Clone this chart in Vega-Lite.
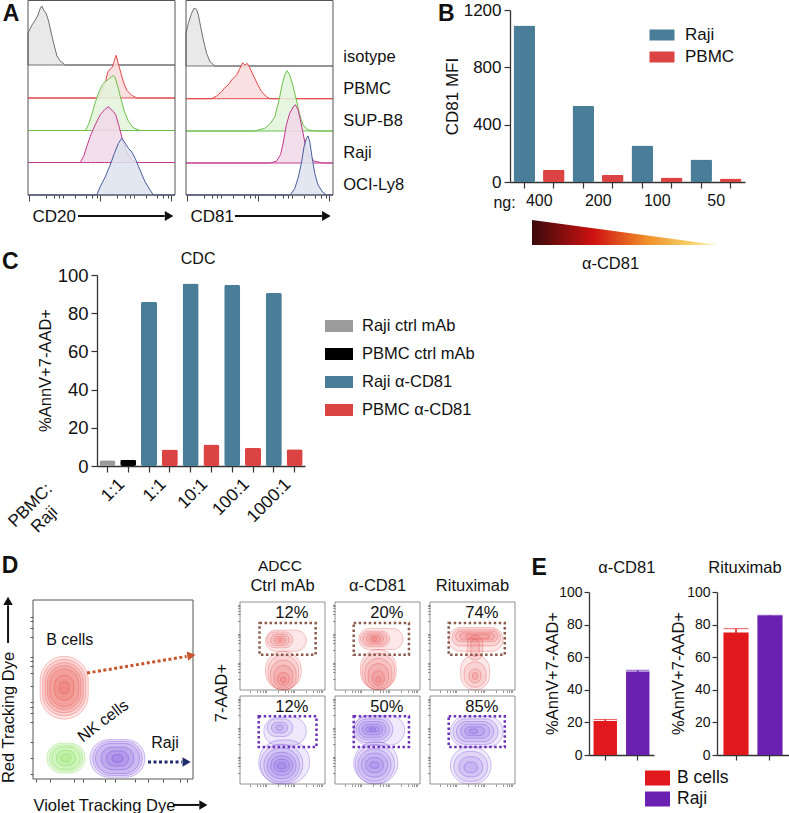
{
"$schema":"https://vega.github.io/schema/vega-lite/v6.json",
"width":789,"height":813,"autosize":"none","padding":0,"background":"white",
"config":{"font":"Liberation Sans","view":{"stroke":null},
 "axis":{"grid":false,"labelColor":"#111","titleColor":"#111","domainColor":"#333","tickColor":"#333","titleFontWeight":"normal","labelFont":"Liberation Sans","titleFont":"Liberation Sans","domainWidth":1.3,"tickWidth":1.2},
 "legend":{"labelFont":"Liberation Sans","labelColor":"#111","padding":0,"offset":0,"symbolStrokeWidth":0},
 "text":{"font":"Liberation Sans","color":"#111"}},
"datasets":{
"hist":[
{"ab":"CD20","pop":"isotype","fl":0,"cnt":32},{"ab":"CD20","pop":"isotype","fl":2.7,"cnt":40},{"ab":"CD20","pop":"isotype","fl":5,"cnt":45},{"ab":"CD20","pop":"isotype","fl":6.8,"cnt":50},{"ab":"CD20","pop":"isotype","fl":8.4,"cnt":57},{"ab":"CD20","pop":"isotype","fl":9.5,"cnt":59},{"ab":"CD20","pop":"isotype","fl":10.6,"cnt":55},{"ab":"CD20","pop":"isotype","fl":12.2,"cnt":52},{"ab":"CD20","pop":"isotype","fl":14,"cnt":44},{"ab":"CD20","pop":"isotype","fl":15.8,"cnt":32},{"ab":"CD20","pop":"isotype","fl":17.4,"cnt":22},{"ab":"CD20","pop":"isotype","fl":19.7,"cnt":9},{"ab":"CD20","pop":"isotype","fl":21.9,"cnt":4},{"ab":"CD20","pop":"isotype","fl":25.3,"cnt":0},{"ab":"CD20","pop":"isotype","fl":100,"cnt":0},
{"ab":"CD20","pop":"PBMC","fl":0,"cnt":0},{"ab":"CD20","pop":"PBMC","fl":46.8,"cnt":0},{"ab":"CD20","pop":"PBMC","fl":49.1,"cnt":2.7},{"ab":"CD20","pop":"PBMC","fl":51.4,"cnt":11},{"ab":"CD20","pop":"PBMC","fl":52.9,"cnt":17.7},{"ab":"CD20","pop":"PBMC","fl":54.3,"cnt":26},{"ab":"CD20","pop":"PBMC","fl":55.9,"cnt":29},{"ab":"CD20","pop":"PBMC","fl":57.5,"cnt":31},{"ab":"CD20","pop":"PBMC","fl":58.8,"cnt":37.7},{"ab":"CD20","pop":"PBMC","fl":60,"cnt":42.7},{"ab":"CD20","pop":"PBMC","fl":61.1,"cnt":36},{"ab":"CD20","pop":"PBMC","fl":62.7,"cnt":27.7},{"ab":"CD20","pop":"PBMC","fl":64.9,"cnt":16},{"ab":"CD20","pop":"PBMC","fl":67.2,"cnt":7.7},{"ab":"CD20","pop":"PBMC","fl":70.6,"cnt":2.7},{"ab":"CD20","pop":"PBMC","fl":74,"cnt":0},{"ab":"CD20","pop":"PBMC","fl":100,"cnt":0},
{"ab":"CD20","pop":"SUP-B8","fl":0,"cnt":0},{"ab":"CD20","pop":"SUP-B8","fl":38.9,"cnt":0},{"ab":"CD20","pop":"SUP-B8","fl":41.2,"cnt":6},{"ab":"CD20","pop":"SUP-B8","fl":43.4,"cnt":16},{"ab":"CD20","pop":"SUP-B8","fl":45.7,"cnt":27.7},{"ab":"CD20","pop":"SUP-B8","fl":48,"cnt":37.7},{"ab":"CD20","pop":"SUP-B8","fl":50.7,"cnt":46},{"ab":"CD20","pop":"SUP-B8","fl":52.5,"cnt":49},{"ab":"CD20","pop":"SUP-B8","fl":54.8,"cnt":51},{"ab":"CD20","pop":"SUP-B8","fl":56.6,"cnt":53.7},{"ab":"CD20","pop":"SUP-B8","fl":58.1,"cnt":55},{"ab":"CD20","pop":"SUP-B8","fl":59.3,"cnt":52.7},{"ab":"CD20","pop":"SUP-B8","fl":61.1,"cnt":44},{"ab":"CD20","pop":"SUP-B8","fl":63.3,"cnt":31},{"ab":"CD20","pop":"SUP-B8","fl":65.6,"cnt":19},{"ab":"CD20","pop":"SUP-B8","fl":68.3,"cnt":9.3},{"ab":"CD20","pop":"SUP-B8","fl":71.7,"cnt":2.7},{"ab":"CD20","pop":"SUP-B8","fl":76.2,"cnt":0},{"ab":"CD20","pop":"SUP-B8","fl":100,"cnt":0},
{"ab":"CD20","pop":"Raji","fl":0,"cnt":0},{"ab":"CD20","pop":"Raji","fl":35.5,"cnt":0},{"ab":"CD20","pop":"Raji","fl":37.8,"cnt":6},{"ab":"CD20","pop":"Raji","fl":40,"cnt":16},{"ab":"CD20","pop":"Raji","fl":42.3,"cnt":26},{"ab":"CD20","pop":"Raji","fl":45.7,"cnt":37.7},{"ab":"CD20","pop":"Raji","fl":49.1,"cnt":47.7},{"ab":"CD20","pop":"Raji","fl":52,"cnt":52.7},{"ab":"CD20","pop":"Raji","fl":54.8,"cnt":56},{"ab":"CD20","pop":"Raji","fl":56.6,"cnt":52.7},{"ab":"CD20","pop":"Raji","fl":58.1,"cnt":51},{"ab":"CD20","pop":"Raji","fl":59.7,"cnt":47.7},{"ab":"CD20","pop":"Raji","fl":62,"cnt":36},{"ab":"CD20","pop":"Raji","fl":64.3,"cnt":22.7},{"ab":"CD20","pop":"Raji","fl":66.5,"cnt":12.7},{"ab":"CD20","pop":"Raji","fl":69.5,"cnt":4.3},{"ab":"CD20","pop":"Raji","fl":72.9,"cnt":0},{"ab":"CD20","pop":"Raji","fl":100,"cnt":0},
{"ab":"CD20","pop":"OCI-Ly8","fl":0,"cnt":0},{"ab":"CD20","pop":"OCI-Ly8","fl":46.8,"cnt":0},{"ab":"CD20","pop":"OCI-Ly8","fl":49.1,"cnt":8.3},{"ab":"CD20","pop":"OCI-Ly8","fl":52.5,"cnt":18},{"ab":"CD20","pop":"OCI-Ly8","fl":55.9,"cnt":30},{"ab":"CD20","pop":"OCI-Ly8","fl":58.8,"cnt":41.7},{"ab":"CD20","pop":"OCI-Ly8","fl":61.5,"cnt":51.7},{"ab":"CD20","pop":"OCI-Ly8","fl":63.8,"cnt":56.7},{"ab":"CD20","pop":"OCI-Ly8","fl":65.6,"cnt":53},{"ab":"CD20","pop":"OCI-Ly8","fl":68.3,"cnt":46.7},{"ab":"CD20","pop":"OCI-Ly8","fl":70.6,"cnt":43},{"ab":"CD20","pop":"OCI-Ly8","fl":72.9,"cnt":36.7},{"ab":"CD20","pop":"OCI-Ly8","fl":76.2,"cnt":25},{"ab":"CD20","pop":"OCI-Ly8","fl":79.6,"cnt":13.3},{"ab":"CD20","pop":"OCI-Ly8","fl":83,"cnt":5},{"ab":"CD20","pop":"OCI-Ly8","fl":85.3,"cnt":0},{"ab":"CD20","pop":"OCI-Ly8","fl":100,"cnt":0},
{"ab":"CD81","pop":"isotype","fl":0,"cnt":32.7},{"ab":"CD81","pop":"isotype","fl":1.6,"cnt":42.7},{"ab":"CD81","pop":"isotype","fl":3.8,"cnt":52.7},{"ab":"CD81","pop":"isotype","fl":5.4,"cnt":57.7},{"ab":"CD81","pop":"isotype","fl":7.2,"cnt":56.7},{"ab":"CD81","pop":"isotype","fl":8.4,"cnt":51},{"ab":"CD81","pop":"isotype","fl":10,"cnt":39},{"ab":"CD81","pop":"isotype","fl":11.8,"cnt":26},{"ab":"CD81","pop":"isotype","fl":14,"cnt":12.7},{"ab":"CD81","pop":"isotype","fl":16.3,"cnt":4.3},{"ab":"CD81","pop":"isotype","fl":19.7,"cnt":0},{"ab":"CD81","pop":"isotype","fl":100,"cnt":0},
{"ab":"CD81","pop":"PBMC","fl":0,"cnt":0},{"ab":"CD81","pop":"PBMC","fl":17.4,"cnt":0},{"ab":"CD81","pop":"PBMC","fl":20.8,"cnt":2.7},{"ab":"CD81","pop":"PBMC","fl":24.2,"cnt":7},{"ab":"CD81","pop":"PBMC","fl":26.5,"cnt":11.3},{"ab":"CD81","pop":"PBMC","fl":28.7,"cnt":13.7},{"ab":"CD81","pop":"PBMC","fl":31,"cnt":18.7},{"ab":"CD81","pop":"PBMC","fl":34.4,"cnt":23.7},{"ab":"CD81","pop":"PBMC","fl":36.7,"cnt":30.3},{"ab":"CD81","pop":"PBMC","fl":38.5,"cnt":36},{"ab":"CD81","pop":"PBMC","fl":40,"cnt":33.7},{"ab":"CD81","pop":"PBMC","fl":41.6,"cnt":35.3},{"ab":"CD81","pop":"PBMC","fl":43,"cnt":32},{"ab":"CD81","pop":"PBMC","fl":45.7,"cnt":23.7},{"ab":"CD81","pop":"PBMC","fl":48.4,"cnt":15.3},{"ab":"CD81","pop":"PBMC","fl":51.4,"cnt":7},{"ab":"CD81","pop":"PBMC","fl":54.8,"cnt":2},{"ab":"CD81","pop":"PBMC","fl":57,"cnt":0},{"ab":"CD81","pop":"PBMC","fl":100,"cnt":0},
{"ab":"CD81","pop":"SUP-B8","fl":0,"cnt":0},{"ab":"CD81","pop":"SUP-B8","fl":46.8,"cnt":0},{"ab":"CD81","pop":"SUP-B8","fl":53.6,"cnt":2.7},{"ab":"CD81","pop":"SUP-B8","fl":57.5,"cnt":7.7},{"ab":"CD81","pop":"SUP-B8","fl":60.4,"cnt":14.3},{"ab":"CD81","pop":"SUP-B8","fl":63.3,"cnt":31},{"ab":"CD81","pop":"SUP-B8","fl":65.6,"cnt":47.7},{"ab":"CD81","pop":"SUP-B8","fl":67.2,"cnt":56},{"ab":"CD81","pop":"SUP-B8","fl":68.8,"cnt":60.3},{"ab":"CD81","pop":"SUP-B8","fl":70.6,"cnt":56},{"ab":"CD81","pop":"SUP-B8","fl":72.9,"cnt":44.3},{"ab":"CD81","pop":"SUP-B8","fl":75.1,"cnt":31},{"ab":"CD81","pop":"SUP-B8","fl":77.4,"cnt":16},{"ab":"CD81","pop":"SUP-B8","fl":79.6,"cnt":6},{"ab":"CD81","pop":"SUP-B8","fl":83,"cnt":1},{"ab":"CD81","pop":"SUP-B8","fl":88.7,"cnt":0},{"ab":"CD81","pop":"SUP-B8","fl":100,"cnt":0},
{"ab":"CD81","pop":"Raji","fl":0,"cnt":0},{"ab":"CD81","pop":"Raji","fl":57,"cnt":0},{"ab":"CD81","pop":"Raji","fl":61.5,"cnt":1.7},{"ab":"CD81","pop":"Raji","fl":64.3,"cnt":8.3},{"ab":"CD81","pop":"Raji","fl":66.1,"cnt":20},{"ab":"CD81","pop":"Raji","fl":68.3,"cnt":38.3},{"ab":"CD81","pop":"Raji","fl":70.6,"cnt":50},{"ab":"CD81","pop":"Raji","fl":72.9,"cnt":56},{"ab":"CD81","pop":"Raji","fl":74.4,"cnt":58.3},{"ab":"CD81","pop":"Raji","fl":76.2,"cnt":53.3},{"ab":"CD81","pop":"Raji","fl":77.8,"cnt":43.3},{"ab":"CD81","pop":"Raji","fl":79.6,"cnt":30},{"ab":"CD81","pop":"Raji","fl":81.4,"cnt":16.7},{"ab":"CD81","pop":"Raji","fl":83.7,"cnt":6.7},{"ab":"CD81","pop":"Raji","fl":87.6,"cnt":1.7},{"ab":"CD81","pop":"Raji","fl":93.2,"cnt":0},{"ab":"CD81","pop":"Raji","fl":100,"cnt":0},
{"ab":"CD81","pop":"OCI-Ly8","fl":0,"cnt":0},{"ab":"CD81","pop":"OCI-Ly8","fl":71,"cnt":0},{"ab":"CD81","pop":"OCI-Ly8","fl":74,"cnt":6.7},{"ab":"CD81","pop":"OCI-Ly8","fl":76.2,"cnt":16.7},{"ab":"CD81","pop":"OCI-Ly8","fl":78.5,"cnt":31.7},{"ab":"CD81","pop":"OCI-Ly8","fl":80.3,"cnt":48.3},{"ab":"CD81","pop":"OCI-Ly8","fl":81.9,"cnt":56.7},{"ab":"CD81","pop":"OCI-Ly8","fl":83,"cnt":59},{"ab":"CD81","pop":"OCI-Ly8","fl":84.2,"cnt":53.3},{"ab":"CD81","pop":"OCI-Ly8","fl":85.7,"cnt":38.3},{"ab":"CD81","pop":"OCI-Ly8","fl":87.6,"cnt":21.7},{"ab":"CD81","pop":"OCI-Ly8","fl":89.8,"cnt":10},{"ab":"CD81","pop":"OCI-Ly8","fl":92.8,"cnt":3.3},{"ab":"CD81","pop":"OCI-Ly8","fl":95.5,"cnt":0},{"ab":"CD81","pop":"OCI-Ly8","fl":100,"cnt":0}
],
"lanes":[{"pop":"isotype"},{"pop":"PBMC"},{"pop":"SUP-B8"},{"pop":"Raji"},{"pop":"OCI-Ly8"}],
"mfi":[
{"bar":"400 Raji","ng":"400","cell":"Raji","mfi":1092},{"bar":"400 PBMC","ng":"400","cell":"PBMC","mfi":85},
{"bar":"200 Raji","ng":"200","cell":"Raji","mfi":531},{"bar":"200 PBMC","ng":"200","cell":"PBMC","mfi":50},
{"bar":"100 Raji","ng":"100","cell":"Raji","mfi":255},{"bar":"100 PBMC","ng":"100","cell":"PBMC","mfi":32},
{"bar":"50 Raji","ng":"50","cell":"Raji","mfi":157},{"bar":"50 PBMC","ng":"50","cell":"PBMC","mfi":25}],
"dose":[{"frac":0,"amount":1},{"frac":1,"amount":0}],
"cdc":[
{"bar":"1:1|ctrl|Raji","ratio":"1:1","group":"Raji ctrl mAb","pct":3.0},
{"bar":"1:1|ctrl|PBMC","ratio":"1:1","group":"PBMC ctrl mAb","pct":3.3},
{"bar":"1:1|α|Raji","ratio":"1:1","group":"Raji α-CD81","pct":86.0},
{"bar":"1:1|α|PBMC","ratio":"1:1","group":"PBMC α-CD81","pct":8.6},
{"bar":"10:1|α|Raji","ratio":"10:1","group":"Raji α-CD81","pct":95.6},
{"bar":"10:1|α|PBMC","ratio":"10:1","group":"PBMC α-CD81","pct":11.2},
{"bar":"100:1|α|Raji","ratio":"100:1","group":"Raji α-CD81","pct":94.8},
{"bar":"100:1|α|PBMC","ratio":"100:1","group":"PBMC α-CD81","pct":9.5},
{"bar":"1000:1|α|Raji","ratio":"1000:1","group":"Raji α-CD81","pct":90.6},
{"bar":"1000:1|α|PBMC","ratio":"1000:1","group":"PBMC α-CD81","pct":8.8}],
"rings":[
{"panel":"D0","cell":"B cells","x1":4.5,"x2":34.5,"y1":33.5,"y2":68.5},{"panel":"D0","cell":"B cells","x1":6,"x2":33,"y1":35.3,"y2":66.8},{"panel":"D0","cell":"B cells","x1":7.5,"x2":31.5,"y1":37,"y2":65},{"panel":"D0","cell":"B cells","x1":9,"x2":30,"y1":38.8,"y2":63.3},{"panel":"D0","cell":"B cells","x1":10.5,"x2":28.5,"y1":40.5,"y2":61.5},{"panel":"D0","cell":"B cells","x1":13.5,"x2":25.5,"y1":44,"y2":58},{"panel":"D0","cell":"B cells","x1":16.5,"x2":22.5,"y1":47.5,"y2":54.5},
{"panel":"D0","cell":"NK cells","x1":8.7,"x2":32.5,"y1":3.4,"y2":20},{"panel":"D0","cell":"NK cells","x1":10.2,"x2":31,"y1":4.5,"y2":19},{"panel":"D0","cell":"NK cells","x1":11.7,"x2":29.5,"y1":5.5,"y2":17.9},{"panel":"D0","cell":"NK cells","x1":14.6,"x2":26.6,"y1":7.5,"y2":15.9},{"panel":"D0","cell":"NK cells","x1":17.6,"x2":23.6,"y1":9.6,"y2":13.8},
{"panel":"D0","cell":"Raji","x1":35.6,"x2":70,"y1":1,"y2":22},{"panel":"D0","cell":"Raji","x1":37.3,"x2":68.3,"y1":2,"y2":21},{"panel":"D0","cell":"Raji","x1":39,"x2":66.6,"y1":3.1,"y2":19.9},{"panel":"D0","cell":"Raji","x1":42.5,"x2":63.1,"y1":5.2,"y2":17.8},{"panel":"D0","cell":"Raji","x1":45.9,"x2":59.7,"y1":7.3,"y2":15.7},{"panel":"D0","cell":"Raji","x1":49.4,"x2":56.2,"y1":9.4,"y2":13.6},
{"panel":"P1","cell":"B cells","x1":30,"x2":78,"y1":44,"y2":68},{"panel":"P1","cell":"B cells","x1":32,"x2":62,"y1":48,"y2":66},{"panel":"P1","cell":"B cells","x1":36,"x2":58,"y1":50.5,"y2":63.5},{"panel":"P1","cell":"B cells","x1":40,"x2":54,"y1":53,"y2":61},{"panel":"P1","cell":"B cells","x1":44,"x2":50,"y1":55.5,"y2":58.5},
{"panel":"P1","cell":"B cells","x1":30,"x2":72,"y1":0,"y2":44},{"panel":"P1","cell":"B cells","x1":33,"x2":69,"y1":0,"y2":40},{"panel":"P1","cell":"B cells","x1":36,"x2":66,"y1":0,"y2":34},{"panel":"P1","cell":"B cells","x1":40,"x2":62,"y1":2,"y2":28},{"panel":"P1","cell":"B cells","x1":44,"x2":58,"y1":5,"y2":20},{"panel":"P1","cell":"B cells","x1":48,"x2":54,"y1":8,"y2":15},
{"panel":"P2","cell":"B cells","x1":28,"x2":80,"y1":46,"y2":70},{"panel":"P2","cell":"B cells","x1":30,"x2":64,"y1":49,"y2":67},{"panel":"P2","cell":"B cells","x1":33,"x2":61,"y1":51,"y2":65},{"panel":"P2","cell":"B cells","x1":37,"x2":57,"y1":53,"y2":63},{"panel":"P2","cell":"B cells","x1":41,"x2":53,"y1":55,"y2":61},{"panel":"P2","cell":"B cells","x1":44,"x2":49,"y1":56.5,"y2":59.5},
{"panel":"P2","cell":"B cells","x1":30,"x2":72,"y1":0,"y2":46},{"panel":"P2","cell":"B cells","x1":32,"x2":70,"y1":0,"y2":42},{"panel":"P2","cell":"B cells","x1":35,"x2":67,"y1":0,"y2":36},{"panel":"P2","cell":"B cells","x1":39,"x2":63,"y1":2,"y2":30},{"panel":"P2","cell":"B cells","x1":44,"x2":58,"y1":5,"y2":22},{"panel":"P2","cell":"B cells","x1":48,"x2":54,"y1":8,"y2":15},
{"panel":"P3","cell":"B cells","x1":22,"x2":86,"y1":44,"y2":71},{"panel":"P3","cell":"B cells","x1":26,"x2":83,"y1":50,"y2":69},{"panel":"P3","cell":"B cells","x1":30,"x2":80,"y1":55,"y2":67},{"panel":"P3","cell":"B cells","x1":35,"x2":76,"y1":57,"y2":65},{"panel":"P3","cell":"B cells","x1":42,"x2":70,"y1":58.5,"y2":63.5},{"panel":"P3","cell":"B cells","x1":44,"x2":62,"y1":34,"y2":62},{"panel":"P3","cell":"B cells","x1":48,"x2":58,"y1":38,"y2":58},
{"panel":"P3","cell":"B cells","x1":36,"x2":70,"y1":0,"y2":40},{"panel":"P3","cell":"B cells","x1":40,"x2":66,"y1":3,"y2":32},{"panel":"P3","cell":"B cells","x1":46,"x2":60,"y1":8,"y2":24},{"panel":"P3","cell":"B cells","x1":50,"x2":56,"y1":12,"y2":20},
{"panel":"P4","cell":"Raji","x1":28,"x2":78,"y1":44,"y2":76},{"panel":"P4","cell":"Raji","x1":32,"x2":62,"y1":54,"y2":74},{"panel":"P4","cell":"Raji","x1":37,"x2":56,"y1":58,"y2":70},{"panel":"P4","cell":"Raji","x1":42,"x2":51,"y1":61,"y2":67},
{"panel":"P4","cell":"Raji","x1":22,"x2":82,"y1":0,"y2":50},{"panel":"P4","cell":"Raji","x1":24,"x2":74,"y1":0,"y2":45},{"panel":"P4","cell":"Raji","x1":28,"x2":70,"y1":2,"y2":41},{"panel":"P4","cell":"Raji","x1":32,"x2":66,"y1":6,"y2":36},{"panel":"P4","cell":"Raji","x1":36,"x2":62,"y1":10,"y2":32},{"panel":"P4","cell":"Raji","x1":40,"x2":58,"y1":14,"y2":28},{"panel":"P4","cell":"Raji","x1":44,"x2":54,"y1":17,"y2":24},
{"panel":"P5","cell":"Raji","x1":22,"x2":82,"y1":44,"y2":78},{"panel":"P5","cell":"Raji","x1":22,"x2":68,"y1":47,"y2":77},{"panel":"P5","cell":"Raji","x1":25,"x2":64,"y1":50,"y2":74},{"panel":"P5","cell":"Raji","x1":28,"x2":60,"y1":53,"y2":71},{"panel":"P5","cell":"Raji","x1":32,"x2":56,"y1":56,"y2":68},{"panel":"P5","cell":"Raji","x1":36,"x2":52,"y1":59,"y2":65},{"panel":"P5","cell":"Raji","x1":40,"x2":48,"y1":60.5,"y2":63.5},
{"panel":"P5","cell":"Raji","x1":22,"x2":74,"y1":0,"y2":48},{"panel":"P5","cell":"Raji","x1":24,"x2":70,"y1":0,"y2":45},{"panel":"P5","cell":"Raji","x1":27,"x2":66,"y1":3,"y2":40},{"panel":"P5","cell":"Raji","x1":31,"x2":62,"y1":8,"y2":35},{"panel":"P5","cell":"Raji","x1":36,"x2":57,"y1":13,"y2":30},{"panel":"P5","cell":"Raji","x1":41,"x2":52,"y1":18,"y2":25},
{"panel":"P6","cell":"Raji","x1":24,"x2":86,"y1":42,"y2":77},{"panel":"P6","cell":"Raji","x1":27,"x2":80,"y1":45,"y2":74},{"panel":"P6","cell":"Raji","x1":31,"x2":75,"y1":48,"y2":71},{"panel":"P6","cell":"Raji","x1":36,"x2":70,"y1":52,"y2":68},{"panel":"P6","cell":"Raji","x1":41,"x2":64,"y1":55,"y2":65},{"panel":"P6","cell":"Raji","x1":46,"x2":56,"y1":57.5,"y2":62.5},
{"panel":"P6","cell":"Raji","x1":24,"x2":72,"y1":0,"y2":42},{"panel":"P6","cell":"Raji","x1":28,"x2":68,"y1":3,"y2":37},{"panel":"P6","cell":"Raji","x1":34,"x2":62,"y1":8,"y2":31},{"panel":"P6","cell":"Raji","x1":40,"x2":56,"y1":13,"y2":25}],
"gates":[
{"panel":"P1","x1":23,"x2":89,"y1":40,"y2":76,"pct":"12%"},{"panel":"P2","x1":22,"x2":87,"y1":40,"y2":76,"pct":"20%"},{"panel":"P3","x1":22,"x2":88,"y1":40,"y2":76,"pct":"74%"},
{"panel":"P4","x1":22,"x2":90,"y1":42,"y2":77,"pct":"12%"},{"panel":"P5","x1":22,"x2":87,"y1":42,"y2":77,"pct":"50%"},{"panel":"P6","x1":22,"x2":88,"y1":42,"y2":77,"pct":"85%"}],
"adcc":[
{"treat":"α-CD81","cell":"B cells","pct":20.9,"sd":0.9},{"treat":"α-CD81","cell":"Raji","pct":51.2,"sd":0.8},
{"treat":"Rituximab","cell":"B cells","pct":75.2,"sd":2.3},{"treat":"Rituximab","cell":"Raji","pct":85.4,"sd":0.3}]
},
"layer":[
{"data":{"name":"hist"},"resolve":{"scale":{"y":"independent"}},"layer":[
 {"transform":[{"filter":"datum.ab=='CD20'&&datum.pop=='isotype'"}],"mark":{"type":"area","fill":"#e9e9e9","stroke":"#707070","strokeWidth":1},"encoding":{"x":{"field":"fl","type":"quantitative"},"y":{"field":"cnt","type":"quantitative","scale":{"domain":[0,60],"range":[65,5],"nice":false,"zero":false},"axis":null}}},
 {"transform":[{"filter":"datum.ab=='CD20'&&datum.pop=='PBMC'"}],"mark":{"type":"area","fill":"#f9dada","stroke":"#e2474b","strokeWidth":1,"fillOpacity":0.85},"encoding":{"x":{"field":"fl","type":"quantitative"},"y":{"field":"cnt","type":"quantitative","scale":{"domain":[0,60],"range":[98,38],"nice":false,"zero":false},"axis":null}}},
 {"transform":[{"filter":"datum.ab=='CD20'&&datum.pop=='SUP-B8'"}],"mark":{"type":"area","fill":"#e3f4da","stroke":"#6cc04a","strokeWidth":1,"fillOpacity":0.85},"encoding":{"x":{"field":"fl","type":"quantitative"},"y":{"field":"cnt","type":"quantitative","scale":{"domain":[0,60],"range":[130.5,70.5],"nice":false,"zero":false},"axis":null}}},
 {"transform":[{"filter":"datum.ab=='CD20'&&datum.pop=='Raji'"}],"mark":{"type":"area","fill":"#f1d8e8","stroke":"#c23a8e","strokeWidth":1,"fillOpacity":0.85},"encoding":{"x":{"field":"fl","type":"quantitative"},"y":{"field":"cnt","type":"quantitative","scale":{"domain":[0,60],"range":[162.5,102.5],"nice":false,"zero":false},"axis":null}}},
 {"transform":[{"filter":"datum.ab=='CD20'&&datum.pop=='OCI-Ly8'"}],"mark":{"type":"area","fill":"#dde3ef","stroke":"#4a5c9c","strokeWidth":1,"fillOpacity":0.85},"encoding":{"x":{"field":"fl","type":"quantitative"},"y":{"field":"cnt","type":"quantitative","scale":{"domain":[0,60],"range":[195,135],"nice":false,"zero":false},"axis":null}}},
 {"data":{"values":[{}]},"layer":[
  {"mark":{"type":"rect","fill":"transparent","stroke":"#555","strokeWidth":1},"encoding":{"x":{"datum":0,"type":"quantitative","scale":{"domain":[0,100],"range":[28,175],"nice":false,"zero":false},"axis":{"orient":"bottom","offset":-618,"values":[0.7,7.98,12.24,15.27,17.62,19.53,21.15,22.55,23.79,24.9,32.18,36.44,39.47,41.82,43.73,45.35,46.75,47.99,49.1,56.38,60.64,63.67,66.02,67.93,69.55,70.95,72.19,73.3,80.58,84.84,87.87,90.22,92.13,93.75,95.15,96.39,97.5],"labels":false,"domain":false,"tickColor":"#444","tickWidth":1,"tickSize":{"condition":{"test":"indexof([0.7,24.9,49.1,73.3,97.5],datum.value)>=0","value":6},"value":3},"title":"CD20","titleX":32,"titleY":21,"titleAlign":"left","titleBaseline":"middle","titleFontSize":17}},"x2":{"datum":100},"y":{"datum":0,"type":"quantitative","scale":{"domain":[0,1],"range":[195,0.5],"nice":false,"zero":false},"axis":null},"y2":{"datum":1}}},
  {"mark":{"type":"rule","color":"#111","strokeWidth":2},"encoding":{"x":{"datum":34},"x2":{"datum":93},"y":{"datum":-0.108,"axis":null}}},
  {"mark":{"type":"point","shape":"triangle-right","filled":true,"size":100,"color":"#111","opacity":1},"encoding":{"x":{"datum":96},"y":{"datum":-0.108,"axis":null}}},
  {"mark":{"type":"text","text":"A","fontSize":23,"fontWeight":"bold"},"encoding":{"x":{"datum":-11.5},"y":{"datum":0.93,"axis":null}}}
 ]}
]},
{"data":{"name":"hist"},"resolve":{"scale":{"y":"independent"}},"layer":[
 {"transform":[{"filter":"datum.ab=='CD81'&&datum.pop=='isotype'"}],"mark":{"type":"area","fill":"#e9e9e9","stroke":"#707070","strokeWidth":1},"encoding":{"x":{"field":"fl","type":"quantitative"},"y":{"field":"cnt","type":"quantitative","scale":{"domain":[0,60],"range":[66,6],"nice":false,"zero":false},"axis":null}}},
 {"transform":[{"filter":"datum.ab=='CD81'&&datum.pop=='PBMC'"}],"mark":{"type":"area","fill":"#f9dada","stroke":"#e2474b","strokeWidth":1,"fillOpacity":0.85},"encoding":{"x":{"field":"fl","type":"quantitative"},"y":{"field":"cnt","type":"quantitative","scale":{"domain":[0,60],"range":[98.7,38.7],"nice":false,"zero":false},"axis":null}}},
 {"transform":[{"filter":"datum.ab=='CD81'&&datum.pop=='SUP-B8'"}],"mark":{"type":"area","fill":"#e3f4da","stroke":"#6cc04a","strokeWidth":1,"fillOpacity":0.85},"encoding":{"x":{"field":"fl","type":"quantitative"},"y":{"field":"cnt","type":"quantitative","scale":{"domain":[0,60],"range":[131,71],"nice":false,"zero":false},"axis":null}}},
 {"transform":[{"filter":"datum.ab=='CD81'&&datum.pop=='Raji'"}],"mark":{"type":"area","fill":"#f1d8e8","stroke":"#c23a8e","strokeWidth":1,"fillOpacity":0.85},"encoding":{"x":{"field":"fl","type":"quantitative"},"y":{"field":"cnt","type":"quantitative","scale":{"domain":[0,60],"range":[163,103],"nice":false,"zero":false},"axis":null}}},
 {"transform":[{"filter":"datum.ab=='CD81'&&datum.pop=='OCI-Ly8'"}],"mark":{"type":"area","fill":"#dde3ef","stroke":"#4a5c9c","strokeWidth":1,"fillOpacity":0.85},"encoding":{"x":{"field":"fl","type":"quantitative"},"y":{"field":"cnt","type":"quantitative","scale":{"domain":[0,60],"range":[195,135],"nice":false,"zero":false},"axis":null}}},
 {"data":{"name":"lanes"},"mark":{"type":"text","align":"left","baseline":"middle","fontSize":16.5},"encoding":{"x":{"datum":107},"y":{"field":"pop","type":"nominal","sort":null,"scale":{"type":"point","domain":["isotype","PBMC","SUP-B8","Raji","OCI-Ly8"],"range":[57,185],"padding":0},"axis":null},"text":{"field":"pop"}}},
 {"data":{"values":[{}]},"layer":[
  {"mark":{"type":"rect","fill":"transparent","stroke":"#555","strokeWidth":1},"encoding":{"x":{"datum":0,"type":"quantitative","scale":{"domain":[0,100],"range":[186,333],"nice":false,"zero":false},"axis":{"orient":"bottom","offset":-618,"values":[0.7,7.98,12.24,15.27,17.62,19.53,21.15,22.55,23.79,24.9,32.18,36.44,39.47,41.82,43.73,45.35,46.75,47.99,49.1,56.38,60.64,63.67,66.02,67.93,69.55,70.95,72.19,73.3,80.58,84.84,87.87,90.22,92.13,93.75,95.15,96.39,97.5],"labels":false,"domain":false,"tickColor":"#444","tickWidth":1,"tickSize":{"condition":{"test":"indexof([0.7,24.9,49.1,73.3,97.5],datum.value)>=0","value":6},"value":3},"title":"CD81","titleX":190,"titleY":21,"titleAlign":"left","titleBaseline":"middle","titleFontSize":17}},"x2":{"datum":100},"y":{"datum":0,"type":"quantitative","scale":{"domain":[0,1],"range":[195,0.5],"nice":false,"zero":false},"axis":null},"y2":{"datum":1}}},
  {"mark":{"type":"rule","color":"#111","strokeWidth":2},"encoding":{"x":{"datum":33.3},"x2":{"datum":92.5},"y":{"datum":-0.108,"axis":null}}},
  {"mark":{"type":"point","shape":"triangle-right","filled":true,"size":100,"color":"#111","opacity":1},"encoding":{"x":{"datum":95.5},"y":{"datum":-0.108,"axis":null}}}
 ]}
]},
{"layer":[
 {"data":{"name":"mfi"},"mark":{"type":"bar","cornerRadius":1.5},"encoding":{
  "x":{"field":"bar","type":"nominal","sort":null,"scale":{"type":"band","domain":["400 Raji","400 PBMC","200 Raji","200 PBMC","100 Raji","100 PBMC","50 Raji","50 PBMC"],"range":[510,745],"paddingInner":0.27,"paddingOuter":0.12},"axis":{"orient":"bottom","offset":-631,"labelExpr":"indexof(datum.label,'Raji')>=0 ? split(datum.label,' ')[0] : ''","labelAngle":0,"labelOffset":15,"labelOverlap":false,"labelFontSize":16,"labelPadding":4,"tickSize":6,"title":"ng:","titleX":504,"titleY":20,"titleAlign":"center","titleBaseline":"middle","titleFontSize":16}},
  "y":{"field":"mfi","type":"quantitative","scale":{"domain":[0,1200],"range":[182,10],"nice":false,"zero":false},"axis":{"orient":"left","offset":-510,"values":[0,400,800,1200],"format":"d","labelFontSize":17,"tickSize":6,"labelPadding":3,"title":"CD81 MFI","titleFontSize":17,"titleX":-58,"titleY":96,"titleAngle":270,"titleAlign":"center","titleBaseline":"middle"}},
  "color":{"field":"cell","type":"nominal","scale":{"domain":["Raji","PBMC"],"range":["#4a7d97","#dc4343"]},"legend":{"orient":"none","legendX":652,"legendY":25,"title":null,"symbolType":"M-1.25,-0.55H1.25V0.55H-1.25Z","symbolSize":400,"labelFontSize":17,"rowPadding":4,"labelOffset":13,"symbolOpacity":1}}}},
 {"data":{"values":[{}]},"mark":{"type":"text","text":"B","fontSize":23,"fontWeight":"bold","dx":-78},"encoding":{"x":{"datum":"400 Raji"},"y":{"datum":1170}}}
]},
{"data":{"name":"dose"},"mark":{"type":"area","color":{"gradient":"linear","x1":0,"x2":1,"y1":0,"y2":0,"stops":[{"offset":0,"color":"#3a0a0a"},{"offset":0.33,"color":"#cf1111"},{"offset":0.62,"color":"#f0902a"},{"offset":0.85,"color":"#f6d066"},{"offset":1,"color":"#fdf3c0"}]}},"encoding":{
  "x":{"field":"frac","type":"quantitative","scale":{"domain":[0,1],"range":[532,718],"nice":false,"zero":false},"axis":{"orient":"bottom","offset":-568,"domain":false,"ticks":false,"labels":false,"title":"α-CD81","titleX":610,"titleY":18,"titleAlign":"center","titleBaseline":"middle","titleFontSize":16.5}},
  "y":{"field":"amount","type":"quantitative","scale":{"domain":[0,1],"range":[245,220],"nice":false},"axis":null}}},
{"layer":[
 {"data":{"name":"cdc"},"mark":{"type":"bar","cornerRadius":2},"encoding":{
  "x":{"field":"bar","type":"nominal","sort":null,"scale":{"type":"band","domain":["1:1|ctrl|Raji","1:1|ctrl|PBMC","1:1|α|Raji","1:1|α|PBMC","10:1|α|Raji","10:1|α|PBMC","100:1|α|Raji","100:1|α|PBMC","1000:1|α|Raji","1000:1|α|PBMC"],"range":[97,305],"paddingInner":0.23,"paddingOuter":0.115},"axis":{"orient":"bottom","offset":-347,"labelExpr":"split(datum.label,'|')[2]=='Raji' ? split(datum.label,'|')[0] : ''","labelAngle":-45,"labelOffset":8,"labelOverlap":false,"labelFontSize":17.5,"labelPadding":3,"tickSize":6,"title":["PBMC:","Raji"],"titleAngle":315,"titleX":30,"titleY":39,"titleAlign":"center","titleBaseline":"middle","titleFontSize":17,"titleLineHeight":20}},
  "y":{"field":"pct","type":"quantitative","scale":{"domain":[0,100],"range":[466,275],"nice":false,"zero":false},"axis":{"orient":"left","offset":-97,"values":[0,20,40,60,80,100],"labelFontSize":18.5,"tickSize":6,"labelPadding":3,"title":"%AnnV+7-AAD+","titleFontSize":16.5,"titleX":-52,"titleY":370,"titleAngle":270,"titleAlign":"center","titleBaseline":"middle"}},
  "color":{"field":"group","type":"nominal","scale":{"domain":["Raji ctrl mAb","PBMC ctrl mAb","Raji α-CD81","PBMC α-CD81"],"range":["#9b9b9b","#000000","#4a7d97","#dc4343"]},"legend":{"orient":"none","legendX":329,"legendY":316,"title":null,"symbolType":"M-1.4,-0.6H1.4V0.6H-1.4Z","symbolSize":400,"labelFontSize":16.5,"rowPadding":9,"labelOffset":13,"symbolOpacity":1}}}},
 {"data":{"values":[{}]},"layer":[
  {"mark":{"type":"text","text":"CDC","fontSize":16,"dx":7.5,"baseline":"middle"},"encoding":{"x":{"datum":"10:1|α|Raji"},"y":{"datum":108.5}}},
  {"mark":{"type":"text","text":"C","fontSize":23,"fontWeight":"bold","dx":-97,"baseline":"middle"},"encoding":{"x":{"datum":"1:1|ctrl|Raji"},"y":{"datum":107}}}
 ]}
]},
{"layer":[
 {"data":{"name":"rings"},"transform":[{"filter":"datum.panel=='D0'"}],"mark":{"type":"rect","cornerRadius":40,"fillOpacity":0.13,"strokeOpacity":0.55,"strokeWidth":0.6},"encoding":{
  "x":{"field":"x1","type":"quantitative","scale":{"domain":[0,100],"range":[33,193],"nice":false,"zero":false},"axis":{"orient":"bottom","offset":-34,"values":[2,4,6,8,10.6,17.1,20.9,23.5,25.6,27.3,28.8,30,31.1,32,38.5,42.3,44.9,47,48.7,50.2,51.4,52.5,53.5,60,63.8,66.4,68.5,70.2,71.7,72.9,74,75,81.5,85.3,87.9,90,91.7,93.2,94.4,95.5,96.5],"labels":false,"domain":false,"tickSize":3,"tickColor":"#555","tickWidth":1,"title":"Violet Tracking Dye","titleX":33,"titleY":26,"titleAlign":"left","titleBaseline":"middle","titleFontSize":16.5}},
  "x2":{"field":"x2"},
  "y":{"field":"y1","type":"quantitative","scale":{"domain":[0,100],"range":[779,600],"nice":false,"zero":false},"axis":{"orient":"left","offset":-33,"values":[3,8,12,16,20.7,27.8,31.9,34.8,37.1,39,40.5,41.9,43.1,45.3,52.2,56.2,59.1,61.3,63.1,64.6,66,67.2,68.2,75.2,79.4,82.3,84.6,86.5,88,89.4,90.6,91.6],"labels":false,"domain":false,"tickSize":3,"tickColor":"#555","tickWidth":1,"title":"Red Tracking Dye","titleX":-25,"titleY":717,"titleAngle":270,"titleAlign":"center","titleBaseline":"middle","titleFontSize":16.5}},
  "y2":{"field":"y2"},
  "fill":{"field":"cell","type":"nominal","scale":{"domain":["B cells","NK cells","Raji"],"range":["#e8443e","#72e03a","#6a35d6"]},"legend":null},
  "stroke":{"field":"cell","type":"nominal","scale":{"domain":["B cells","NK cells","Raji"],"range":["#e8443e","#62d030","#6a35d6"]},"legend":null}}},
 {"data":{"values":[{}]},"layer":[
  {"mark":{"type":"rect","fill":"transparent","stroke":"#555","strokeWidth":1},"encoding":{"x":{"datum":0},"x2":{"datum":100},"y":{"datum":0},"y2":{"datum":100}}},
  {"mark":{"type":"text","text":"B cells","fontSize":16},"encoding":{"x":{"datum":23},"y":{"datum":77.6}}},
  {"mark":{"type":"text","text":"NK cells","fontSize":16,"angle":323},"encoding":{"x":{"datum":43.8},"y":{"datum":32.4}}},
  {"mark":{"type":"text","text":"Raji","fontSize":16},"encoding":{"x":{"datum":82.5},"y":{"datum":20}}},
  {"mark":{"type":"text","text":"D","fontSize":23,"fontWeight":"bold"},"encoding":{"x":{"datum":-14.3},"y":{"datum":119}}},
  {"mark":{"type":"rule","color":"#c9552d","strokeWidth":3,"strokeDash":[3,2.5]},"encoding":{"x":{"datum":33.8},"x2":{"datum":96},"y":{"datum":59.2},"y2":{"datum":68.5}}},
  {"mark":{"type":"point","shape":"triangle-right","filled":true,"size":90,"color":"#c9552d","opacity":1,"angle":350},"encoding":{"x":{"datum":99},"y":{"datum":69}}},
  {"mark":{"type":"rule","color":"#1f2c6a","strokeWidth":3,"strokeDash":[3,2.5]},"encoding":{"x":{"datum":71.9},"x2":{"datum":93},"y":{"datum":9.5}}},
  {"mark":{"type":"point","shape":"triangle-right","filled":true,"size":90,"color":"#1f2c6a","opacity":1},"encoding":{"x":{"datum":96},"y":{"datum":9.5}}},
  {"mark":{"type":"rule","color":"#111","strokeWidth":2},"encoding":{"x":{"datum":87.5},"x2":{"datum":104},"y":{"datum":-14.5}}},
  {"mark":{"type":"point","shape":"triangle-right","filled":true,"size":90,"color":"#111","opacity":1},"encoding":{"x":{"datum":106.5},"y":{"datum":-14.5}}},
  {"mark":{"type":"rule","color":"#111","strokeWidth":2},"encoding":{"x":{"datum":-15.6},"y":{"datum":76},"y2":{"datum":97}}},
  {"mark":{"type":"point","shape":"triangle-up","filled":true,"size":90,"color":"#111","opacity":1},"encoding":{"x":{"datum":-15.6},"y":{"datum":99.5}}}
 ]}
]},
{"layer":[
 {"data":{"name":"rings"},"transform":[{"filter":"datum.panel=='P1'"}],"mark":{"type":"rect","cornerRadius":40,"fill":"#e9453f","stroke":"#e23e39","fillOpacity":0.12,"strokeOpacity":0.5,"strokeWidth":0.6},"encoding":{"x":{"field":"x1","type":"quantitative","scale":{"domain":[0,100],"range":[240,325],"nice":false,"zero":false},"axis":{"orient":"bottom","offset":-123,"values":[12,20,24,27,29,31,45,53,57,60,62,64,78,86,90,93,95,97],"labels":false,"domain":false,"tickSize":2.5,"tickColor":"#999","tickWidth":1,"title":null}},"x2":{"field":"x2"},"y":{"field":"y1","type":"quantitative","scale":{"domain":[0,100],"range":[690,602],"nice":false,"zero":false},"axis":{"orient":"left","offset":-240,"values":[12,20,24,27,29,31,45,53,57,60,62,64,78,86,90,93,95,97],"labels":false,"domain":false,"tickSize":2.5,"tickColor":"#999","tickWidth":1,"title":null}},"y2":{"field":"y2"}}},
 {"data":{"name":"gates"},"transform":[{"filter":"datum.panel=='P1'"}],"layer":[
  {"mark":{"type":"rect","fill":"transparent","stroke":"#8b5b4d","strokeWidth":2.5,"strokeDash":[2.5,2.5]},"encoding":{"x":{"field":"x1","type":"quantitative"},"x2":{"field":"x2"},"y":{"field":"y1","type":"quantitative"},"y2":{"field":"y2"}}},
  {"mark":{"type":"text","fontSize":16.5},"encoding":{"x":{"datum":61},"y":{"datum":88},"text":{"field":"pct"}}}]},
 {"data":{"values":[{}]},"layer":[
  {"mark":{"type":"rect","fill":"transparent","stroke":"#777","strokeWidth":0.8},"encoding":{"x":{"datum":0},"x2":{"datum":100},"y":{"datum":0},"y2":{"datum":100}}},
  {"mark":{"type":"text","text":"Ctrl mAb","fontSize":16.5},"encoding":{"x":{"datum":50},"y":{"datum":118}}},
  {"mark":{"type":"text","text":"ADCC","fontSize":15.5},"encoding":{"x":{"datum":47},"y":{"datum":141}}},
  {"mark":{"type":"text","text":"7-AAD+","fontSize":16.5,"angle":270},"encoding":{"x":{"datum":-21},"y":{"datum":-3.5}}}]}
]},
{"layer":[
 {"data":{"name":"rings"},"transform":[{"filter":"datum.panel=='P2'"}],"mark":{"type":"rect","cornerRadius":40,"fill":"#e9453f","stroke":"#e23e39","fillOpacity":0.12,"strokeOpacity":0.5,"strokeWidth":0.6},"encoding":{"x":{"field":"x1","type":"quantitative","scale":{"domain":[0,100],"range":[335,420],"nice":false,"zero":false},"axis":{"orient":"bottom","offset":-123,"values":[12,20,24,27,29,31,45,53,57,60,62,64,78,86,90,93,95,97],"labels":false,"domain":false,"tickSize":2.5,"tickColor":"#999","tickWidth":1,"title":null}},"x2":{"field":"x2"},"y":{"field":"y1","type":"quantitative","scale":{"domain":[0,100],"range":[690,602],"nice":false,"zero":false},"axis":{"orient":"left","offset":-335,"values":[12,20,24,27,29,31,45,53,57,60,62,64,78,86,90,93,95,97],"labels":false,"domain":false,"tickSize":2.5,"tickColor":"#999","tickWidth":1,"title":null}},"y2":{"field":"y2"}}},
 {"data":{"name":"gates"},"transform":[{"filter":"datum.panel=='P2'"}],"layer":[
  {"mark":{"type":"rect","fill":"transparent","stroke":"#8b5b4d","strokeWidth":2.5,"strokeDash":[2.5,2.5]},"encoding":{"x":{"field":"x1","type":"quantitative"},"x2":{"field":"x2"},"y":{"field":"y1","type":"quantitative"},"y2":{"field":"y2"}}},
  {"mark":{"type":"text","fontSize":16.5},"encoding":{"x":{"datum":61},"y":{"datum":88},"text":{"field":"pct"}}}]},
 {"data":{"values":[{}]},"layer":[
  {"mark":{"type":"rect","fill":"transparent","stroke":"#777","strokeWidth":0.8},"encoding":{"x":{"datum":0},"x2":{"datum":100},"y":{"datum":0},"y2":{"datum":100}}},
  {"mark":{"type":"text","text":"α-CD81","fontSize":16.5},"encoding":{"x":{"datum":50},"y":{"datum":118}}}]}
]},
{"layer":[
 {"data":{"name":"rings"},"transform":[{"filter":"datum.panel=='P3'"}],"mark":{"type":"rect","cornerRadius":40,"fill":"#e9453f","stroke":"#e23e39","fillOpacity":0.12,"strokeOpacity":0.5,"strokeWidth":0.6},"encoding":{"x":{"field":"x1","type":"quantitative","scale":{"domain":[0,100],"range":[430,515],"nice":false,"zero":false},"axis":{"orient":"bottom","offset":-123,"values":[12,20,24,27,29,31,45,53,57,60,62,64,78,86,90,93,95,97],"labels":false,"domain":false,"tickSize":2.5,"tickColor":"#999","tickWidth":1,"title":null}},"x2":{"field":"x2"},"y":{"field":"y1","type":"quantitative","scale":{"domain":[0,100],"range":[690,602],"nice":false,"zero":false},"axis":{"orient":"left","offset":-430,"values":[12,20,24,27,29,31,45,53,57,60,62,64,78,86,90,93,95,97],"labels":false,"domain":false,"tickSize":2.5,"tickColor":"#999","tickWidth":1,"title":null}},"y2":{"field":"y2"}}},
 {"data":{"name":"gates"},"transform":[{"filter":"datum.panel=='P3'"}],"layer":[
  {"mark":{"type":"rect","fill":"transparent","stroke":"#8b5b4d","strokeWidth":2.5,"strokeDash":[2.5,2.5]},"encoding":{"x":{"field":"x1","type":"quantitative"},"x2":{"field":"x2"},"y":{"field":"y1","type":"quantitative"},"y2":{"field":"y2"}}},
  {"mark":{"type":"text","fontSize":16.5},"encoding":{"x":{"datum":61},"y":{"datum":88},"text":{"field":"pct"}}}]},
 {"data":{"values":[{}]},"layer":[
  {"mark":{"type":"rect","fill":"transparent","stroke":"#777","strokeWidth":0.8},"encoding":{"x":{"datum":0},"x2":{"datum":100},"y":{"datum":0},"y2":{"datum":100}}},
  {"mark":{"type":"text","text":"Rituximab","fontSize":16.5},"encoding":{"x":{"datum":50},"y":{"datum":118}}}]}
]},
{"layer":[
 {"data":{"name":"rings"},"transform":[{"filter":"datum.panel=='P4'"}],"mark":{"type":"rect","cornerRadius":40,"fill":"#7446dd","stroke":"#6a35d8","fillOpacity":0.12,"strokeOpacity":0.5,"strokeWidth":0.6},"encoding":{"x":{"field":"x1","type":"quantitative","scale":{"domain":[0,100],"range":[240,325],"nice":false,"zero":false},"axis":{"orient":"bottom","offset":-29,"values":[12,20,24,27,29,31,45,53,57,60,62,64,78,86,90,93,95,97],"labels":false,"domain":false,"tickSize":2.5,"tickColor":"#999","tickWidth":1,"title":null}},"x2":{"field":"x2"},"y":{"field":"y1","type":"quantitative","scale":{"domain":[0,100],"range":[784,696],"nice":false,"zero":false},"axis":{"orient":"left","offset":-240,"values":[12,20,24,27,29,31,45,53,57,60,62,64,78,86,90,93,95,97],"labels":false,"domain":false,"tickSize":2.5,"tickColor":"#999","tickWidth":1,"title":null}},"y2":{"field":"y2"}}},
 {"data":{"name":"gates"},"transform":[{"filter":"datum.panel=='P4'"}],"layer":[
  {"mark":{"type":"rect","fill":"transparent","stroke":"#6b30b8","strokeWidth":2.5,"strokeDash":[2.5,2.5]},"encoding":{"x":{"field":"x1","type":"quantitative"},"x2":{"field":"x2"},"y":{"field":"y1","type":"quantitative"},"y2":{"field":"y2"}}},
  {"mark":{"type":"text","fontSize":16.5},"encoding":{"x":{"datum":61},"y":{"datum":88},"text":{"field":"pct"}}}]},
 {"data":{"values":[{}]},"mark":{"type":"rect","fill":"transparent","stroke":"#777","strokeWidth":0.8},"encoding":{"x":{"datum":0},"x2":{"datum":100},"y":{"datum":0},"y2":{"datum":100}}}
]},
{"layer":[
 {"data":{"name":"rings"},"transform":[{"filter":"datum.panel=='P5'"}],"mark":{"type":"rect","cornerRadius":40,"fill":"#7446dd","stroke":"#6a35d8","fillOpacity":0.12,"strokeOpacity":0.5,"strokeWidth":0.6},"encoding":{"x":{"field":"x1","type":"quantitative","scale":{"domain":[0,100],"range":[335,420],"nice":false,"zero":false},"axis":{"orient":"bottom","offset":-29,"values":[12,20,24,27,29,31,45,53,57,60,62,64,78,86,90,93,95,97],"labels":false,"domain":false,"tickSize":2.5,"tickColor":"#999","tickWidth":1,"title":null}},"x2":{"field":"x2"},"y":{"field":"y1","type":"quantitative","scale":{"domain":[0,100],"range":[784,696],"nice":false,"zero":false},"axis":{"orient":"left","offset":-335,"values":[12,20,24,27,29,31,45,53,57,60,62,64,78,86,90,93,95,97],"labels":false,"domain":false,"tickSize":2.5,"tickColor":"#999","tickWidth":1,"title":null}},"y2":{"field":"y2"}}},
 {"data":{"name":"gates"},"transform":[{"filter":"datum.panel=='P5'"}],"layer":[
  {"mark":{"type":"rect","fill":"transparent","stroke":"#6b30b8","strokeWidth":2.5,"strokeDash":[2.5,2.5]},"encoding":{"x":{"field":"x1","type":"quantitative"},"x2":{"field":"x2"},"y":{"field":"y1","type":"quantitative"},"y2":{"field":"y2"}}},
  {"mark":{"type":"text","fontSize":16.5},"encoding":{"x":{"datum":61},"y":{"datum":88},"text":{"field":"pct"}}}]},
 {"data":{"values":[{}]},"mark":{"type":"rect","fill":"transparent","stroke":"#777","strokeWidth":0.8},"encoding":{"x":{"datum":0},"x2":{"datum":100},"y":{"datum":0},"y2":{"datum":100}}}
]},
{"layer":[
 {"data":{"name":"rings"},"transform":[{"filter":"datum.panel=='P6'"}],"mark":{"type":"rect","cornerRadius":40,"fill":"#7446dd","stroke":"#6a35d8","fillOpacity":0.12,"strokeOpacity":0.5,"strokeWidth":0.6},"encoding":{"x":{"field":"x1","type":"quantitative","scale":{"domain":[0,100],"range":[430,515],"nice":false,"zero":false},"axis":{"orient":"bottom","offset":-29,"values":[12,20,24,27,29,31,45,53,57,60,62,64,78,86,90,93,95,97],"labels":false,"domain":false,"tickSize":2.5,"tickColor":"#999","tickWidth":1,"title":null}},"x2":{"field":"x2"},"y":{"field":"y1","type":"quantitative","scale":{"domain":[0,100],"range":[784,696],"nice":false,"zero":false},"axis":{"orient":"left","offset":-430,"values":[12,20,24,27,29,31,45,53,57,60,62,64,78,86,90,93,95,97],"labels":false,"domain":false,"tickSize":2.5,"tickColor":"#999","tickWidth":1,"title":null}},"y2":{"field":"y2"}}},
 {"data":{"name":"gates"},"transform":[{"filter":"datum.panel=='P6'"}],"layer":[
  {"mark":{"type":"rect","fill":"transparent","stroke":"#6b30b8","strokeWidth":2.5,"strokeDash":[2.5,2.5]},"encoding":{"x":{"field":"x1","type":"quantitative"},"x2":{"field":"x2"},"y":{"field":"y1","type":"quantitative"},"y2":{"field":"y2"}}},
  {"mark":{"type":"text","fontSize":16.5},"encoding":{"x":{"datum":61},"y":{"datum":88},"text":{"field":"pct"}}}]},
 {"data":{"values":[{}]},"mark":{"type":"rect","fill":"transparent","stroke":"#777","strokeWidth":0.8},"encoding":{"x":{"datum":0},"x2":{"datum":100},"y":{"datum":0},"y2":{"datum":100}}}
]},
{"data":{"name":"adcc"},"transform":[{"filter":"datum.treat=='α-CD81'"}],"layer":[
 {"transform":[{"filter":"datum.cell=='B cells'"}],"mark":{"type":"errorbar","ticks":{"color":"#e2191c"},"rule":{"color":"#e2191c","strokeWidth":1.5}},"encoding":{"x":{"field":"cell","type":"nominal"},"y":{"field":"pct","type":"quantitative","title":"%AnnV+7-AAD+"},"yError":{"field":"sd"}}},
 {"transform":[{"filter":"datum.cell=='Raji'"}],"mark":{"type":"errorbar","ticks":{"color":"#6a21b2"},"rule":{"color":"#6a21b2","strokeWidth":1.5}},"encoding":{"x":{"field":"cell","type":"nominal"},"y":{"field":"pct","type":"quantitative","title":"%AnnV+7-AAD+"},"yError":{"field":"sd"}}},
 {"mark":{"type":"bar"},"encoding":{
  "x":{"field":"cell","type":"nominal","scale":{"type":"band","domain":["B cells","Raji"],"range":[589,654],"paddingInner":0.28,"paddingOuter":0.14},"axis":{"orient":"bottom","offset":-58,"labels":false,"tickSize":5,"title":null}},
  "y":{"field":"pct","type":"quantitative","title":"%AnnV+7-AAD+","scale":{"domain":[0,100],"range":[755,592],"nice":false,"zero":false},"axis":{"orient":"left","offset":-589,"values":[0,20,40,60,80,100],"labelFontSize":14,"tickSize":5,"labelPadding":2,"title":"%AnnV+7-AAD+","titleFontSize":16.5,"titleX":-37,"titleY":673,"titleAngle":270,"titleAlign":"center","titleBaseline":"middle"}},
  "color":{"field":"cell","type":"nominal","scale":{"domain":["B cells","Raji"],"range":["#e2191c","#6a21b2"]},"legend":{"orient":"none","legendX":647.5,"legendY":768,"title":null,"symbolType":"M-1.25,-0.75H1.25V0.75H-1.25Z","symbolSize":400,"labelFontSize":17.5,"rowPadding":2,"labelOffset":9.5,"symbolOpacity":1}}}},
 {"data":{"values":[{}]},"layer":[
  {"mark":{"type":"text","text":"α-CD81","fontSize":16.5,"dx":-11},"encoding":{"x":{"datum":"Raji"},"y":{"datum":115}}},
  {"mark":{"type":"text","text":"E","fontSize":23,"fontWeight":"bold","dx":-66},"encoding":{"x":{"datum":"B cells"},"y":{"datum":114.7}}}]}
]},
{"data":{"name":"adcc"},"transform":[{"filter":"datum.treat=='Rituximab'"}],"layer":[
 {"transform":[{"filter":"datum.cell=='B cells'"}],"mark":{"type":"errorbar","ticks":{"color":"#e2191c"},"rule":{"color":"#e2191c","strokeWidth":1.5}},"encoding":{"x":{"field":"cell","type":"nominal"},"y":{"field":"pct","type":"quantitative","title":"%AnnV+7-AAD+"},"yError":{"field":"sd"}}},
 {"transform":[{"filter":"datum.cell=='Raji'"}],"mark":{"type":"errorbar","ticks":{"color":"#6a21b2"},"rule":{"color":"#6a21b2","strokeWidth":1.5}},"encoding":{"x":{"field":"cell","type":"nominal"},"y":{"field":"pct","type":"quantitative","title":"%AnnV+7-AAD+"},"yError":{"field":"sd"}}},
 {"mark":{"type":"bar"},"encoding":{
  "x":{"field":"cell","type":"nominal","scale":{"type":"band","domain":["B cells","Raji"],"range":[717,789],"paddingInner":0.26,"paddingOuter":0.19},"axis":{"orient":"bottom","offset":-58,"labels":false,"tickSize":5,"title":null}},
  "y":{"field":"pct","type":"quantitative","title":"%AnnV+7-AAD+","scale":{"domain":[0,100],"range":[755,592],"nice":false,"zero":false},"axis":{"orient":"left","offset":-717,"values":[0,20,40,60,80,100],"labelFontSize":14,"tickSize":5,"labelPadding":2,"title":"%AnnV+7-AAD+","titleFontSize":16.5,"titleX":-39,"titleY":673,"titleAngle":270,"titleAlign":"center","titleBaseline":"middle"}},
  "color":{"field":"cell","type":"nominal","scale":{"domain":["B cells","Raji"],"range":["#e2191c","#6a21b2"]},"legend":null}}},
 {"data":{"values":[{}]},"mark":{"type":"text","text":"Rituximab","fontSize":16.5,"dx":9},"encoding":{"x":{"datum":"B cells"},"y":{"datum":115}}}
]}
],
"resolve":{"scale":{"x":"independent","y":"independent","color":"independent","fill":"independent","stroke":"independent"}}
}
